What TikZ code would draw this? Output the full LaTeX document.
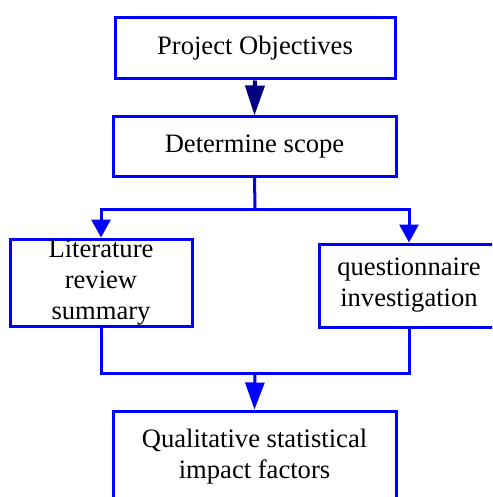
\documentclass[tikz,border=0pt]{standalone}
\usepackage{fontspec}
\setmainfont{Liberation Serif}
\usetikzlibrary{arrows.meta}
\begin{document}
\begin{tikzpicture}[x=1pt,y=-1pt,
  box/.style={draw=blue, line width=3pt, fill=white, align=center, inner sep=0pt,
    font=\fontsize{26.6}{31}\selectfont},
  conn/.style={draw=blue, line width=3pt},
  arr/.style={conn, -{Triangle[length=18pt,width=19pt]}},
  arrlong/.style={conn, -{Triangle[length=27pt,width=19pt]}}]
\useasboundingbox (0,0) rectangle (492,497);
\clip (0,0) rectangle (492,497);
\node[box, minimum width=280pt, minimum height=61pt] (obj) at (255,48.5) {Project Objectives};
\node[box, minimum width=283pt, minimum height=59pt] (scope) at (254.5,146.5) {Determine scope};
\node[box, minimum width=182pt, minimum height=87pt] (lit) at (101,282.5) {Literature\\review\\summary};
\node[box, minimum width=180pt, minimum height=83pt] (q) at (409,285.5) {questionnaire\\investigation};
\node[box, minimum width=283pt, minimum height=92pt] (qual) at (254.5,457) {Qualitative statistical\\impact factors};
\coordinate (j1) at (255,209);
\coordinate (j2) at (255,373);
\draw[draw={rgb,255:red,0;green,0;blue,128}, line width=4pt, -{Triangle[length=30pt,width=19pt]}] (obj.south) -- (scope.north);
\draw[conn] (scope.south) -- (j1);
\draw[arr] (j1) -| (lit.north);
\draw[arr] (j1) -| (q.north);
\draw[conn] (lit.south) |- (j2);
\draw[conn] (q.south) |- (j2);
\draw[arrlong] (j2) -- (qual.north);
\end{tikzpicture}
\end{document}
